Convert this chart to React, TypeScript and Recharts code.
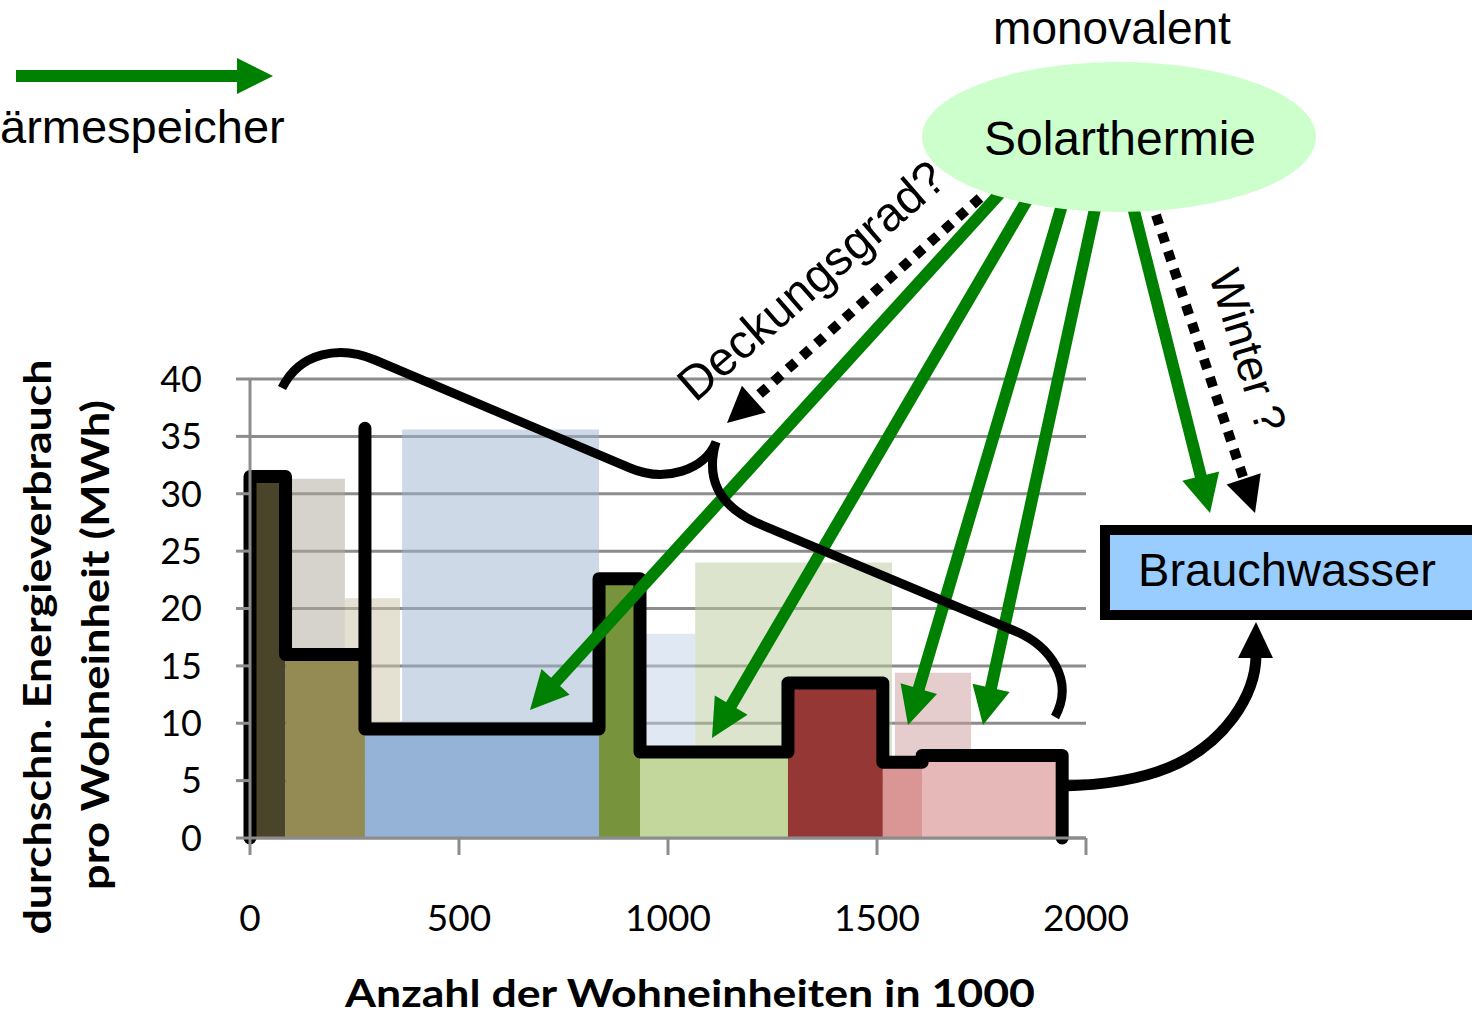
import React from "react";
import {
  ComposedChart,
  Line,
  XAxis,
  YAxis,
  CartesianGrid,
  ReferenceArea,
} from "recharts";

// step outline (Wohneinheiten in 1000 / MWh)
const stepX = [0, 0, 85, 85, 275, 275, 275, 835, 835, 933, 933, 1287, 1287, 1514, 1514, 1608, 1608, 1943, 1943];
const stepY = [0, 31.5, 31.5, 16, 16, 35.7, 9.5, 9.5, 22.6, 22.6, 7.5, 7.5, 13.5, 13.5, 6.6, 6.6, 7.2, 7.2, 0];

// solid blocks under the outline
const barStart = [0, 85, 275, 835, 933, 1287, 1514, 1608];
const barEnd = [85, 275, 835, 933, 1287, 1514, 1608, 1943];
const barValue = [31.5, 16, 9.5, 22.6, 7.5, 13.5, 6.6, 7.2];
const barColors = ["#4A442A", "#948A54", "#95B3D7", "#77933C", "#C3D69B", "#953735", "#D99694", "#E6B9B8"];

// pale blocks in the background
const shadeStart = [85, 227, 364, 940, 1065, 1543];
const shadeEnd = [227, 359, 835, 1065, 1536, 1725];
const shadeValue = [31.3, 20.9, 35.6, 17.8, 24, 14.4];
const shadeColors = ["#ADA799", "#C9C3A7", "#9BB3CD", "#BFD1E7", "#B9C99D", "#CD9B9B"];

const xTicks = [0, 500, 1000, 1500, 2000];
const yTicks = [0, 5, 10, 15, 20, 25, 30, 35, 40];

const stepData = stepX.map((x, i) => ({ x, y: stepY[i] }));

const GRID = "#8C8C8C";
const GREEN = "#008000";
const SANS = "'Liberation Sans', Arial, sans-serif";
const CAL = "Lato, 'Open Sans', sans-serif";

type ArrowProps = {
  from: [number, number];
  to: [number, number];
  color: string;
  width: number;
  head: number;
  dash?: string;
};

function Arrow({ from, to, color, width, head, dash }: ArrowProps) {
  const [x1, y1] = from;
  const [x2, y2] = to;
  const len = Math.hypot(x2 - x1, y2 - y1);
  const ux = (x2 - x1) / len;
  const uy = (y2 - y1) / len;
  const bx = x2 - ux * head;
  const by = y2 - uy * head;
  const hw = head * 0.5;
  const pts = `${x2},${y2} ${bx - uy * hw},${by + ux * hw} ${bx + uy * hw},${by - ux * hw}`;
  return (
    <g>
      <line
        x1={x1}
        y1={y1}
        x2={bx + ux * 2}
        y2={by + uy * 2}
        stroke={color}
        strokeWidth={width}
        strokeDasharray={dash}
      />
      <polygon points={pts} fill={color} />
    </g>
  );
}

function Overlay() {
  return (
    <svg
      width={1472}
      height={1017}
      style={{ position: "absolute", left: 0, top: 0, pointerEvents: "none" }}
    >
      {/* legend arrow top left */}
      <Arrow from={[16, 76]} to={[273, 76]} color={GREEN} width={12} head={36} />
      <text x={0} y={143} fontFamily={SANS} fontSize={47} fill="#000">
        ärmespeicher
      </text>

      <text x={1112} y={44} textAnchor="middle" fontFamily={SANS} fontSize={46} fill="#000">
        monovalent
      </text>

      {/* arrows from Solarthermie */}
      <Arrow from={[1003, 190]} to={[530, 710]} color={GREEN} width={12} head={38} />
      <Arrow from={[1030, 195]} to={[712, 738]} color={GREEN} width={12} head={38} />
      <Arrow from={[1065, 195]} to={[908, 725]} color={GREEN} width={12} head={38} />
      <Arrow from={[1098, 195]} to={[983, 725]} color={GREEN} width={12} head={38} />
      <Arrow from={[1130, 195]} to={[1210, 513]} color={GREEN} width={12} head={38} />
      <Arrow from={[980, 198]} to={[727, 423]} color="#000" width={10} head={36} dash="10 9" />
      <Arrow from={[1156, 215]} to={[1255, 513]} color="#000" width={10} head={36} dash="10 9" />

      <ellipse cx={1119} cy={137} rx={197} ry={75} fill="#CCFFCC" />
      <text x={1120} y={155} textAnchor="middle" fontFamily={SANS} fontSize={48} fill="#000">
        Solarthermie
      </text>

      <text
        x={822}
        y={293}
        textAnchor="middle"
        fontFamily={SANS}
        fontSize={48}
        fill="#000"
        transform="rotate(-41 822 293)"
      >
        Deckungsgrad?
      </text>
      <text
        x={1233}
        y={355}
        textAnchor="middle"
        fontFamily={SANS}
        fontSize={45}
        fill="#000"
        transform="rotate(73 1233 355)"
      >
        Winter ?
      </text>

      {/* brace */}
      <path
        d="M282,388 C300,352 340,345 375,360 L630,468 C665,483 705,470 716,442 C705,480 720,506 757,523 L1015,631 C1050,646 1075,680 1055,717"
        fill="none"
        stroke="#000"
        strokeWidth={9}
      />

      {/* Brauchwasser */}
      <rect x={1105} y={530} width={372} height={85} fill="#99CCFF" stroke="#000" strokeWidth={10} />
      <text x={1287} y={586} textAnchor="middle" fontFamily={SANS} fontSize={47} fill="#000">
        Brauchwasser
      </text>
      <path
        d="M1062,786 C1150,784 1200,762 1233,718 C1252,692 1256,672 1256,655"
        fill="none"
        stroke="#000"
        strokeWidth={11}
      />
      <polygon points="1256,622 1238,658 1273,658" fill="#000" />

      {/* axis titles */}
      <text
        x={51}
        y={647}
        textAnchor="middle"
        fontFamily={CAL}
        fontWeight={700}
        fontSize={38}
        fill="#000"
        textLength={575}
        lengthAdjust="spacingAndGlyphs"
        transform="rotate(-90 51 647)"
      >
        durchschn. Energieverbrauch
      </text>
      <text
        x={109}
        y={645}
        textAnchor="middle"
        fontFamily={CAL}
        fontWeight={700}
        fontSize={38}
        fill="#000"
        textLength={490}
        lengthAdjust="spacingAndGlyphs"
        transform="rotate(-90 109 645)"
      >
        pro Wohneinheit (MWh)
      </text>
      <text
        x={690}
        y={1007}
        textAnchor="middle"
        fontFamily={CAL}
        fontWeight={700}
        fontSize={38}
        fill="#000"
        textLength={690}
        lengthAdjust="spacingAndGlyphs"
      >
        Anzahl der Wohneinheiten in 1000
      </text>
    </svg>
  );
}

export default function App() {
  return (
    <div
      style={{
        position: "absolute",
        left: 0,
        top: 0,
        width: 1472,
        height: 1017,
        background: "#fff",
        overflow: "hidden",
      }}
    >
      <ComposedChart
        width={1472}
        height={1017}
        data={stepData}
        margin={{ top: 379, right: 386, bottom: 79, left: 150 }}
      >
        <CartesianGrid horizontal vertical={false} stroke={GRID} strokeWidth={3} />
        <XAxis
          type="number"
          dataKey="x"
          domain={[0, 2000]}
          ticks={xTicks}
          interval={0}
          height={100}
          stroke={GRID}
          strokeWidth={3}
          tickSize={17}
          tickMargin={50}
          tick={{ fontSize: 37, fill: "#000", fontFamily: CAL }}
        />
        <YAxis
          type="number"
          domain={[0, 40]}
          ticks={yTicks}
          interval={0}
          width={100}
          stroke={GRID}
          strokeWidth={3}
          tickSize={14}
          tickMargin={34}
          tick={{ fontSize: 36, fill: "#000", fontFamily: CAL }}
        />
        {shadeStart.map((s, i) => (
          <ReferenceArea
            key={"s" + i}
            x1={s}
            x2={shadeEnd[i]}
            y1={0}
            y2={shadeValue[i]}
            fill={shadeColors[i]}
            fillOpacity={0.5}
            stroke="none"
          />
        ))}
        {barStart.map((s, i) => (
          <ReferenceArea
            key={"b" + i}
            x1={s}
            x2={barEnd[i]}
            y1={0}
            y2={barValue[i]}
            fill={barColors[i]}
            fillOpacity={1}
            stroke="none"
          />
        ))}
        <Line
          type="linear"
          dataKey="y"
          stroke="#000"
          strokeWidth={13}
          strokeLinejoin="round"
          strokeLinecap="round"
          dot={false}
          activeDot={false}
          isAnimationActive={false}
        />
      </ComposedChart>
      <Overlay />
    </div>
  );
}
